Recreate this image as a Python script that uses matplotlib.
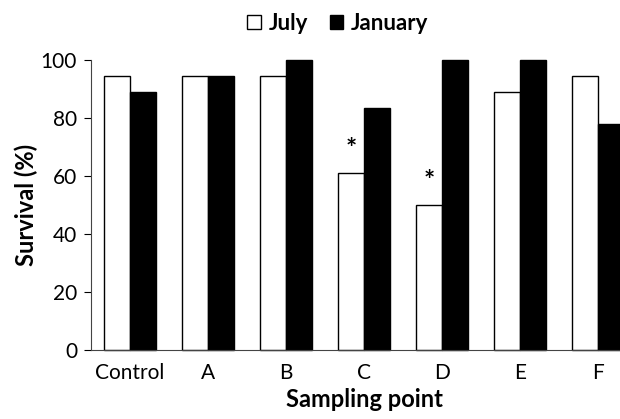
import numpy as np
import matplotlib.pyplot as plt
from matplotlib.patches import Patch

plt.rcParams['font.family'] = ['Lato', 'DejaVu Sans']

sites = ['Control', 'A', 'B', 'C', 'D', 'E', 'F']
july = [94.4, 94.4, 94.4, 61.1, 50.0, 88.9, 94.4]
january = [88.9, 94.4, 100.0, 83.3, 100.0, 100.0, 77.8]
signif_july = [False, False, False, True, True, False, False]

fig = plt.figure(figsize=(6.2, 4.19), dpi=100)
ax = fig.add_axes([91 / 620, 69 / 419, 546 / 620, 290 / 419])

x = np.arange(len(sites))
w = 1 / 3
ax.bar(x - w / 2, july, w, color='white', edgecolor='black', linewidth=1, clip_on=False)
ax.bar(x + w / 2, january, w, color='black', edgecolor='black', linewidth=1, clip_on=False)

for xi, v, s in zip(x, july, signif_july):
    if s:
        ax.text(xi - w / 2, v + 8.3, '*', ha='center', va='center', fontsize=19, fontweight='bold')

ax.set_xlim(-0.5, 6.5)
ax.set_ylim(0, 100)
ax.set_yticks([0, 20, 40, 60, 80, 100])
ax.set_xticks(x)
ax.set_xticklabels(sites)
ax.tick_params(axis='x', length=0, pad=9, labelsize=15)
ax.tick_params(axis='y', direction='out', length=5, labelsize=15, pad=5)
ax.spines['top'].set_visible(False)
ax.spines['right'].set_visible(False)
ax.spines['left'].set_color('#444444')
ax.spines['bottom'].set_color('#444444')
ax.set_ylabel('Survival (%)', fontsize=17, fontweight='bold', labelpad=2)
ax.set_xlabel('Sampling point', fontsize=17, fontweight='bold', labelpad=4)

handles = [Patch(facecolor='white', edgecolor='black', linewidth=1, label='July'),
           Patch(facecolor='black', edgecolor='black', label='January')]
fig.legend(handles=handles, loc='center', bbox_to_anchor=(338 / 620, 1 - 23 / 419), ncol=2,
           frameon=False, prop={'weight': 'bold', 'size': 16}, handlelength=0.6, handleheight=0.6,
           handletextpad=0.35, columnspacing=1.0)

fig.savefig('out.png', dpi=100)
